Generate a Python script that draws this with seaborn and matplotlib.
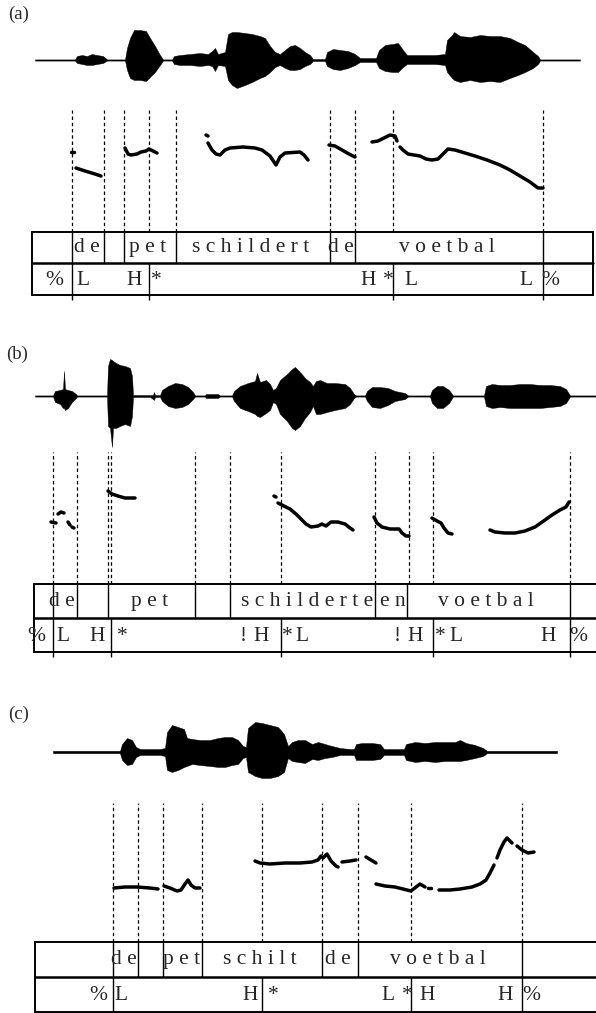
import matplotlib
matplotlib.use('Agg')
import matplotlib.pyplot as plt
import seaborn as sns
import pandas as pd

W, H = 596, 1013

# ---------------- panel (a) ----------------
A_WAVE_T = [35, 75, 77, 82, 87, 92, 97, 103, 107, 125, 127, 130, 134, 140, 146, 150, 155, 160, 163,
            172, 174, 180, 190, 200, 208, 212, 215, 218, 225, 228, 232, 237, 245, 252, 260, 265, 270,
            275, 280, 285, 290, 295, 300, 305, 310, 313, 325, 327, 333, 340, 348, 355, 360, 376, 379,
            385, 392, 398, 403, 407, 420, 435, 445, 447, 452, 454, 460, 470, 480, 490, 500, 510, 518,
            525, 533, 538, 540, 580]
A_WAVE_UP = [0.6, 0.6, 4, 5, 4, 6, 5, 4, 0.6, 0.6, 12, 22, 30, 30, 29, 22, 14, 5, 0.6,
             0.6, 4, 5, 6, 7, 6, 9, 12, 6, 8, 26, 28, 28, 27, 26, 24, 22, 14,
             8, 6, 10, 14, 15, 12, 8, 5, 1, 1, 8, 11, 10, 9, 6, 2, 2, 10,
             15, 16, 17, 10, 5, 5, 5, 6, 20, 25, 28, 24, 23, 25, 24, 24, 22, 18,
             15, 8, 4, 0.6, 0.6]
A_WAVE_DN = [0.6, 0.6, 3, 4, 5, 5, 4, 3, 0.6, 0.6, 10, 18, 20, 20, 21, 17, 12, 5, 0.6,
             0.6, 4, 5, 5, 6, 5, 6, 11, 5, 6, 20, 25, 28, 25, 22, 18, 16, 12,
             7, 5, 8, 10, 10, 9, 6, 4, 1, 1, 6, 9, 10, 8, 5, 2, 2, 8,
             11, 12, 12, 7, 4, 4, 4, 5, 12, 18, 20, 22, 20, 22, 21, 22, 18, 15,
             12, 8, 4, 0.6, 0.6]
A_BOUNDS = [72, 104, 124, 149, 176, 330, 355, 393, 543]
A_WORD_EDGES = [72, 104, 124, 176, 330, 355, 543]
A_TONE_EDGES = [72, 149, 393, 543]
A_WORDS = ["d e", "p e t", "s c h i l d e r t", "d e", "v o e t b a l"]
A_WORD_X = [87, 148, 251, 341, 447]
A_TONES = ["%", "L", "H", "*", "H", "*", "L", "L", "%"]
A_TONE_X = [54, 83, 134, 156, 368, 388, 411, 526, 550]
A_PITCH_T = [[71, 74],
             [76, 85, 95, 101],
             [125, 128, 131, 137, 141, 146, 149, 153, 157],
             [206, 208],
             [208, 212, 216, 220, 225, 230, 243, 255, 262, 270, 276, 280, 285, 300, 304, 308],
             [329, 335, 342, 349, 355],
             [372, 378, 384, 390, 395, 397],
             [400, 403, 408, 414, 420, 426, 432, 438, 443, 448, 455, 465, 475, 487, 500, 510, 520,
              530, 538, 543]]
A_PITCH_F = [[80, 80],
             [64, 61, 58, 56],
             [84, 78, 77, 78, 80, 81, 83, 81, 79],
             [97, 96],
             [89, 82, 78, 77, 82, 84, 85, 84, 82, 76, 67, 75, 79, 80, 77, 72],
             [87, 86, 82, 78, 75],
             [90, 91, 94, 97, 96, 91],
             [85, 82, 78, 77, 76, 73, 72, 73, 78, 83, 82, 79, 76, 72, 67, 62, 56,
              50, 44, 44]]

# ---------------- panel (b) ----------------
B_WAVE_T = [35, 53, 55, 60, 63, 64, 65, 68, 72, 76, 77, 107, 108, 110, 112, 113, 116, 120, 125, 130,
            132, 133, 150, 153, 154, 155, 160, 162, 168, 175, 182, 188, 193, 195, 205, 206, 218, 220,
            232, 234, 240, 248, 255, 257, 260, 266, 270, 273, 276, 280, 287, 292, 295, 300, 305, 310,
            313, 316, 320, 327, 335, 345, 350, 354, 356, 365, 367, 372, 380, 388, 395, 400, 405, 408,
            430, 432, 437, 443, 449, 453, 484, 486, 492, 500, 510, 520, 530, 540, 550, 560, 566,
            570, 596]
B_WAVE_UP = [0.6, 0.6, 5, 6, 7, 25, 7, 6, 5, 2, 0.6, 0.6, 30, 37, 36, 35, 33, 31, 30, 28,
             20, 1, 1, 1, 4, 1, 1, 6, 10, 13, 12, 9, 4, 0.6, 0.6, 2, 2, 0.6,
             0.6, 5, 10, 13, 15, 23, 14, 16, 12, 6, 8, 16, 22, 27, 29, 24, 18, 14,
             10, 15, 16, 13, 13, 12, 8, 2, 0.6, 0.6, 5, 9, 9, 8, 5, 4, 3, 0.6,
             0.6, 6, 10, 10, 6, 0.6, 0.6, 10, 12, 11, 11, 12, 12, 11, 11, 10, 7,
             0.6, 0.6]
B_WAVE_DN = [0.6, 0.6, 6, 8, 12, 12, 14, 12, 6, 2, 0.6, 0.6, 30, 32, 51, 32, 32, 30, 28, 30,
             20, 1, 1, 3, 4, 1, 1, 5, 10, 12, 11, 8, 3, 0.6, 0.6, 2, 2, 0.6,
             0.6, 5, 12, 15, 18, 20, 21, 17, 14, 6, 8, 18, 25, 32, 34, 30, 22, 16,
             10, 18, 18, 16, 14, 12, 8, 2, 0.6, 0.6, 5, 11, 12, 9, 5, 4, 3, 0.6,
             0.6, 7, 12, 12, 7, 0.6, 0.6, 10, 12, 11, 12, 12, 12, 12, 11, 10, 7,
             0.6, 0.6]
B_BOUNDS = [53, 77, 108, 111, 195, 230, 281, 375, 409, 433, 570]
B_WORD_EDGES = [53, 77, 108, 195, 230, 375, 407, 570]
B_TONE_EDGES = [53, 111, 281, 433, 570]
B_WORDS = ["d e", "p e t", "s c h i l d e r t e", "e n", "v o e t b a l"]
B_WORD_X = [62, 150, 307, 393, 486]
B_TONES = ["%", "L", "H", "*", "!", "H", "*", "L", "!", "H", "*", "L", "H", "%"]
B_TONE_X = [36, 63, 97, 122, 243, 261, 287, 302, 397, 415, 440, 456, 548, 578]
B_PITCH_T = [[51, 56], [58, 61, 64], [68, 70], [72, 74],
             [108, 112, 118, 125, 135],
             [274, 276],
             [278, 284, 290, 296, 302, 306, 311, 318, 322, 326, 331, 338, 345, 350, 353],
             [374, 377, 382, 390, 399, 402, 406, 409],
             [432, 437, 441, 444, 448, 452],
             [490, 495, 505, 515, 525, 535, 545, 552, 560, 566, 569]]
B_PITCH_F = [[62, 61], [70, 72, 71], [62, 59], [57, 56],
             [93, 90, 88, 86, 86],
             [88, 87],
             [81, 78, 75, 70, 64, 60, 57, 58, 60, 58, 62, 62, 60, 56, 54],
             [67, 61, 57, 55, 55, 51, 48, 48],
             [66, 63, 61, 56, 51, 50],
             [54, 52, 51, 51, 53, 57, 64, 69, 74, 77, 82]]

# ---------------- panel (c) ----------------
C_WAVE_T = [53, 120, 122, 127, 132, 136, 140, 150, 160, 165, 167, 172, 178, 184, 187, 192, 200, 210,
            218, 225, 232, 238, 243, 246, 248, 255, 262, 270, 278, 284, 288, 292, 298, 305, 312, 318,
            325, 332, 340, 350, 354, 356, 362, 372, 380, 384, 398, 404, 406, 415, 425, 435, 445, 455,
            460, 466, 475, 483, 487, 557]
C_WAVE_UP = [1.2, 1.2, 8, 14, 12, 5, 3, 3, 3, 4, 20, 27, 25, 23, 14, 13, 12, 12,
             14, 15, 15, 12, 6, 5, 24, 30, 29, 27, 25, 18, 6, 10, 12, 12, 8, 10,
             8, 6, 4, 3, 3, 8, 9, 9, 8, 3, 3, 3, 8, 10, 9, 10, 10, 10,
             12, 9, 7, 4, 1.2, 1.2]
C_WAVE_DN = [1.2, 1.2, 8, 13, 12, 5, 3, 3, 3, 4, 18, 20, 18, 15, 14, 12, 13, 14,
             15, 15, 13, 12, 6, 5, 20, 24, 26, 26, 24, 20, 6, 9, 10, 11, 7, 8,
             6, 5, 3, 3, 3, 8, 8, 8, 7, 3, 3, 3, 8, 10, 9, 10, 9, 9,
             9, 8, 6, 4, 1.2, 1.2]
C_BOUNDS = [113, 138, 163, 202, 262, 322, 358, 411, 522]
C_WORD_EDGES = [113, 138, 163, 202, 322, 358, 522]
C_TONE_EDGES = [113, 262, 411, 522]
C_WORDS = ["d e", "p e t", "s c h i l t", "d e", "v o e t b a l"]
C_WORD_X = [124, 182, 260, 338, 438]
C_TONES = ["%", "L", "H", "*", "L", "*", "H", "H", "%"]
C_TONE_X = [98, 121, 250, 273, 388, 407, 427, 505, 531]
C_PITCH_T = [[114, 125, 137, 150, 158],
             [164, 170, 177, 181, 185, 188, 191, 195, 200],
             [255, 260, 270, 285, 300, 312, 318, 321],
             [323, 327, 331, 336, 338],
             [342, 350, 356],
             [366, 371, 376],
             [376, 385, 395, 403, 411, 416, 420, 425],
             [428, 431],
             [439, 450, 460, 472, 480, 486, 490, 494],
             [497, 500, 504, 507, 512],
             [517, 522, 528, 534]]
C_PITCH_F = [[54, 55, 55, 54, 53],
             [56, 54, 51, 52, 58, 62, 57, 54, 54],
             [81, 79, 78, 79, 79, 80, 82, 86],
             [84, 88, 81, 76, 75],
             [80, 81, 82],
             [85, 82, 79],
             [58, 56, 55, 53, 51, 55, 58, 55],
             [54, 54],
             [52, 52, 53, 55, 58, 62, 69, 77],
             [84, 92, 100, 104, 99],
             [96, 92, 89, 90]]

PANELS = [
    # label, label pos, wave centre, dashed top, tier top, tier bottom, box left, box right, data...
    ("(a)", (8, 14), 60, 110, 232, 295, 32, 593,
     A_WAVE_T, A_WAVE_UP, A_WAVE_DN, A_BOUNDS, A_WORD_EDGES, A_TONE_EDGES,
     A_WORDS, A_WORD_X, A_TONES, A_TONE_X, A_PITCH_T, A_PITCH_F),
    ("(b)", (6, 354), 396, 452, 584, 652, 34, 600,
     B_WAVE_T, B_WAVE_UP, B_WAVE_DN, B_BOUNDS, B_WORD_EDGES, B_TONE_EDGES,
     B_WORDS, B_WORD_X, B_TONES, B_TONE_X, B_PITCH_T, B_PITCH_F),
    ("(c)", (8, 714), 752, 803, 942, 1012, 35, 600,
     C_WAVE_T, C_WAVE_UP, C_WAVE_DN, C_BOUNDS, C_WORD_EDGES, C_TONE_EDGES,
     C_WORDS, C_WORD_X, C_TONES, C_TONE_X, C_PITCH_T, C_PITCH_F),
]

sns.set_style("white")
plt.rcParams['font.family'] = ['Liberation Serif', 'DejaVu Serif']

fig = plt.figure(figsize=(W / 100, H / 100), dpi=100)
DASH = (0, (2.8, 2.2))
FS = 15.5


def px_axes(top, bottom):
    ax = fig.add_axes([0, 1 - bottom / H, 1, (bottom - top) / H])
    ax.set_xlim(0, W)
    ax.axis('off')
    ax.patch.set_visible(False)
    return ax


for (lab, lab_xy, wc, dtop, ttop, tbot, bl, br,
     wt, wup, wdn, bounds, wedges, tedges, words, wx, tones, tx, pt, pf) in PANELS:
    fig.text(lab_xy[0] / W, 1 - lab_xy[1] / H, lab, fontsize=13.5, va='center', ha='left')

    # waveform
    axw = px_axes(wc - 60, wc + 60)
    axw.set_ylim(-60, 60)
    axw.fill_between(wt, wup, [-d for d in wdn], color='black', lw=0.3, edgecolor='black')

    # pitch track + dashed boundaries
    axp = px_axes(dtop, ttop)
    for x in bounds:
        axp.axvline(x, color='black', lw=0.9, ls=DASH)
    rows = []
    for i, (ts, fs) in enumerate(zip(pt, pf)):
        for t, f in zip(ts, fs):
            rows.append({"t": t, "f0": f, "seg": i})
    df = pd.DataFrame(rows)
    sns.lineplot(data=df, x="t", y="f0", units="seg", estimator=None, sort=False,
                 color="black", linewidth=2.5, ax=axp, legend=False)
    axp.set_xlim(0, W)
    axp.set_ylim(0, ttop - dtop)
    axp.axis('off')

    # annotation tiers
    axt = px_axes(ttop, tbot)
    axt.set_ylim(0, 2)
    for y in (0, 2):
        axt.plot([bl, br], [y, y], color='black', lw=1.4, clip_on=False)
    axt.plot([bl, br], [1, 1], color='black', lw=1.8, clip_on=False)
    axt.plot([bl, bl], [0, 2], color='black', lw=1.4, clip_on=False)
    axt.plot([br, br], [0, 2], color='black', lw=1.4, clip_on=False)
    axt.vlines(wedges, 1, 2, color='black', lw=1.0)
    axt.vlines(tedges, -0.15, 1, color='black', lw=1.0, clip_on=False)
    for w, x in zip(words, wx):
        axt.text(x, 1.5, w, ha='center', va='center', fontsize=FS)
    for s, x in zip(tones, tx):
        axt.text(x, 0.47, s, ha='center', va='center', fontsize=FS)

fig.savefig("out.png", dpi=100)
